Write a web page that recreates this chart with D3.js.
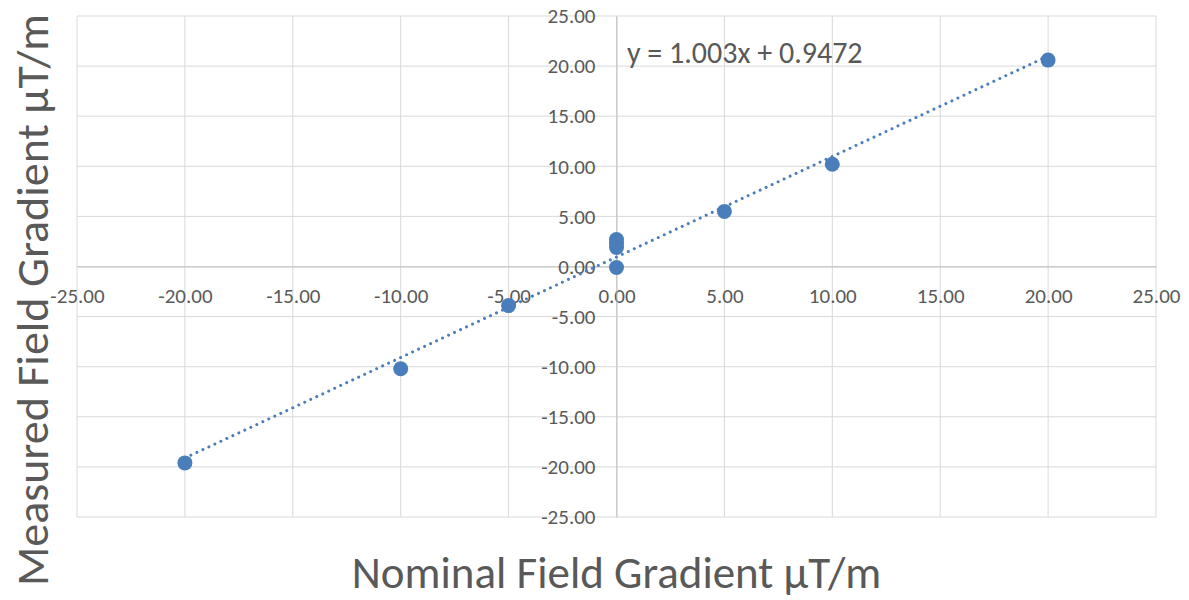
<!DOCTYPE html>
<html>
<head>
<meta charset="utf-8">
<script src="https://cdn.jsdelivr.net/npm/d3@7"></script>
<style>
	body { margin: 0; background: #ffffff; }
	svg { font-family: Calibri, Carlito, "Open Sans", sans-serif; }
</style>
</head>
<body>
<div id="div_id_main"></div>
<script>

// data
var vNominal  = [-20, -10, -5, 0, 0, 0, 0, 5, 10, 20];
var vMeasured = [-19.6, -10.2, -3.9, -0.1, 1.9, 2.3, 2.7, 5.5, 10.2, 20.6];

var vTickValues = [-25, -20, -15, -10, -5, 0, 5, 10, 15, 20, 25];

var fTrend_Slope = 1.003;
var fTrend_Intercept = 0.9472;
var sTrend_Label = "y = 1.003x + 0.9472";

var sTitle_X = "Nominal Field Gradient µT/m";
var sTitle_Y = "Measured Field Gradient µT/m";

// ---------------------------------------------------------------

var WIDTH = 1189;
var HEIGHT = 600;

var PLOT_LEFT = 77;
var PLOT_RIGHT = 1156;
var PLOT_TOP = 16;
var PLOT_BOTTOM = 517;

var COLOR_MAIN = "#4a7ebb";
var COLOR_TEXT = "#595959";

var fScale_X = d3.scaleLinear().domain([-25, 25]).range([PLOT_LEFT, PLOT_RIGHT]);
var fScale_Y = d3.scaleLinear().domain([-25, 25]).range([PLOT_BOTTOM, PLOT_TOP]);

// plain hyphen for negatives, like the original
var formatTick = d3.formatLocale({decimal: ".", thousands: ",", grouping: [3], currency: ["", ""], minus: "-"}).format(".2f");

var svgMain = d3.select("#div_id_main")
				.append("svg")
					.attr("width", WIDTH)
					.attr("height", HEIGHT);

// grid
var gGrid = svgMain.append("g");

gGrid.selectAll("line.grid_x")
		.data(vTickValues)
		.enter()
		.append("line")
			.attr("class", "grid_x")
			.attr("x1", function (d) { return fScale_X(d); })
			.attr("x2", function (d) { return fScale_X(d); })
			.attr("y1", PLOT_TOP)
			.attr("y2", PLOT_BOTTOM)
			.attr("stroke", "#d9d9d9")
			.attr("stroke-width", 1);

gGrid.selectAll("line.grid_y")
		.data(vTickValues)
		.enter()
		.append("line")
			.attr("class", "grid_y")
			.attr("x1", PLOT_LEFT)
			.attr("x2", PLOT_RIGHT)
			.attr("y1", function (d) { return fScale_Y(d); })
			.attr("y2", function (d) { return fScale_Y(d); })
			.attr("stroke", "#d9d9d9")
			.attr("stroke-width", 1);

// axes through zero
var axisX = d3.axisBottom(fScale_X)
				.tickValues(vTickValues)
				.tickSize(0)
				.tickPadding(22)
				.tickFormat(formatTick);

var axisY = d3.axisLeft(fScale_Y)
				.tickValues(vTickValues)
				.tickSize(0)
				.tickPadding(21)
				.tickFormat(formatTick);

var gAxisX = svgMain.append("g")
				.attr("transform", "translate(0," + fScale_Y(0) + ")")
				.call(axisX);

var gAxisY = svgMain.append("g")
				.attr("transform", "translate(" + fScale_X(0) + ",0)")
				.call(axisY);

[gAxisX, gAxisY].forEach(function (g) {
	g.select(".domain").attr("stroke", "#bfbfbf").attr("stroke-width", 1);
	g.selectAll("text")
		.attr("fill", COLOR_TEXT)
		.style("font-size", "21px")
		.style("font-family", "Calibri, Carlito, 'Open Sans', sans-serif");
});

// trend line
var fLine = d3.line()
				.x(function (d) { return fScale_X(d); })
				.y(function (d) { return fScale_Y(fTrend_Slope * d + fTrend_Intercept); });

svgMain.append("path")
			.datum([d3.min(vNominal), d3.max(vNominal)])
			.attr("d", fLine)
			.attr("fill", "none")
			.attr("stroke", COLOR_MAIN)
			.attr("stroke-width", 3)
			.attr("stroke-linecap", "round")
			.attr("stroke-dasharray", "0.01 6.6");

// points
svgMain.selectAll("circle.point")
			.data(vNominal)
			.enter()
			.append("circle")
				.attr("class", "point")
				.attr("cx", function (d) { return fScale_X(d); })
				.attr("cy", function (d, i) { return fScale_Y(vMeasured[i]); })
				.attr("r", 7.5)
				.attr("fill", COLOR_MAIN);

// equation label
svgMain.append("text")
			.attr("x", 627)
			.attr("y", 63)
			.attr("fill", COLOR_TEXT)
			.style("font-size", "30px")
			.text(sTrend_Label);

// axis titles
svgMain.append("text")
			.attr("x", fScale_X(0))
			.attr("y", 588)
			.attr("text-anchor", "middle")
			.attr("fill", COLOR_TEXT)
			.style("font-size", "45px")
			.text(sTitle_X);

svgMain.append("text")
			.attr("transform", "translate(48,300) rotate(-90)")
			.attr("text-anchor", "middle")
			.attr("fill", COLOR_TEXT)
			.style("font-size", "46px")
			.text(sTitle_Y);

</script>
</body>
</html>
